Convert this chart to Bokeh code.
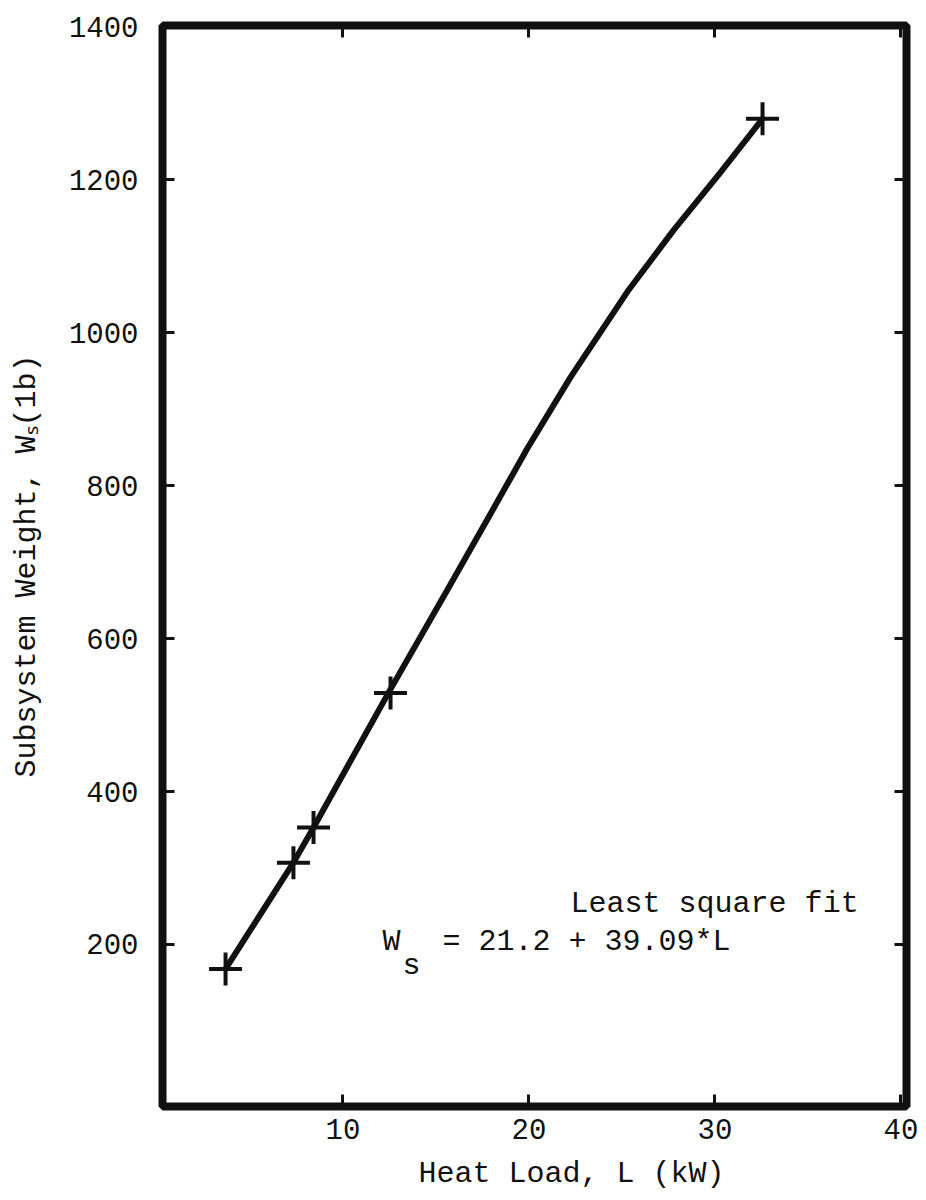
from bokeh.plotting import figure
from bokeh.models import Range1d, FixedTicker, LinearAxis, Label, ColumnDataSource, Title
from bokeh.embed import file_html
from bokeh.resources import INLINE

# ---- data ----
x_ticks = [10, 20, 30, 40]
y_ticks = [200, 400, 600, 800, 1000, 1200, 1400]

# plotted design points (+ markers)
heat_load = [3.69, 7.34, 8.42, 12.56, 32.56]
sub_weight = [168, 307, 353, 529, 1280]

# hand-drawn smooth curve through the points
curve_load = [3.69, 7.34, 8.42, 12.56, 15.62, 17.93, 19.92, 22.24, 25.3, 27.77, 30.3, 32.56]
curve_weight = [168, 307, 353, 534, 664, 763, 849, 942, 1054, 1134, 1210, 1280]

x_title = "Heat Load, L (kW)"
y_title = "Subsystem Weight, W\u209b(1b)"
fit_title = "Least square fit"
fit_lhs = "W"
fit_sub = "s"
fit_rhs = "= 21.2 + 39.09*L"

FONT = "Liberation Mono"
INK = "#111111"

p = figure(
    frame_width=744, frame_height=1081,
    min_border_left=162, min_border_right=14, min_border_top=25, min_border_bottom=88,
    x_range=Range1d(0.3, 40.3), y_range=Range1d(-12, 1402),
    x_axis_location=None, y_axis_location=None,
    output_backend="svg", toolbar_location=None,
    background_fill_color="white", border_fill_color="white",
)
p.grid.visible = False
p.outline_line_color = INK
p.outline_line_width = 8


def make_axis(ticks, labels):
    ax = LinearAxis(
        ticker=FixedTicker(ticks=ticks),
        axis_line_color=None,
        major_tick_in=12, major_tick_out=0,
        major_tick_line_width=3, major_tick_line_color=INK,
        minor_tick_line_color=None,
        major_label_text_font=FONT,
        major_label_text_color=INK,
    )
    if labels:
        ax.major_label_text_font_size = "29px"
    else:
        ax.major_label_text_font_size = "0px"
        ax.major_label_overrides = {t: "" for t in ticks}
        ax.major_label_standoff = 0
    return ax


bottom = make_axis(x_ticks, True)
bottom.major_label_standoff = 12
left = make_axis(y_ticks, True)
left.major_label_standoff = 24
left.axis_label = y_title
left.axis_label_text_font = FONT
left.axis_label_text_font_size = "30px"
left.axis_label_text_font_style = "normal"
left.axis_label_text_color = INK
left.axis_label_standoff = 22
top = make_axis(x_ticks, False)
right = make_axis(y_ticks, False)
p.add_layout(bottom, "below")
p.add_layout(left, "left")
p.add_layout(top, "above")
p.add_layout(right, "right")

p.add_layout(Title(text=x_title, align="left", offset=256, standoff=26,
                   text_font=FONT, text_font_size="30px", text_font_style="normal",
                   text_color=INK), "below")

src_curve = ColumnDataSource(dict(x=curve_load, y=curve_weight))
src_pts = ColumnDataSource(dict(x=heat_load, y=sub_weight))
p.line("x", "y", source=src_curve, line_width=6, line_color=INK,
       line_cap="round", line_join="round")
p.scatter("x", "y", source=src_pts, marker="cross", size=33,
          line_width=4, line_color=INK)

# annotation text inside the frame
p.add_layout(Label(x=22.24, y=231, text=fit_title, text_font=FONT,
                   text_font_size="30px", text_color=INK))
p.add_layout(Label(x=12.13, y=181, text=fit_lhs, text_font=FONT,
                   text_font_size="30px", text_color=INK))
p.add_layout(Label(x=13.2, y=150, text=fit_sub, text_font=FONT,
                   text_font_size="30px", text_color=INK))
p.add_layout(Label(x=15.35, y=181, text=fit_rhs, text_font=FONT,
                   text_font_size="30px", text_color=INK))

open("out.html", "w").write(file_html(p, INLINE))
